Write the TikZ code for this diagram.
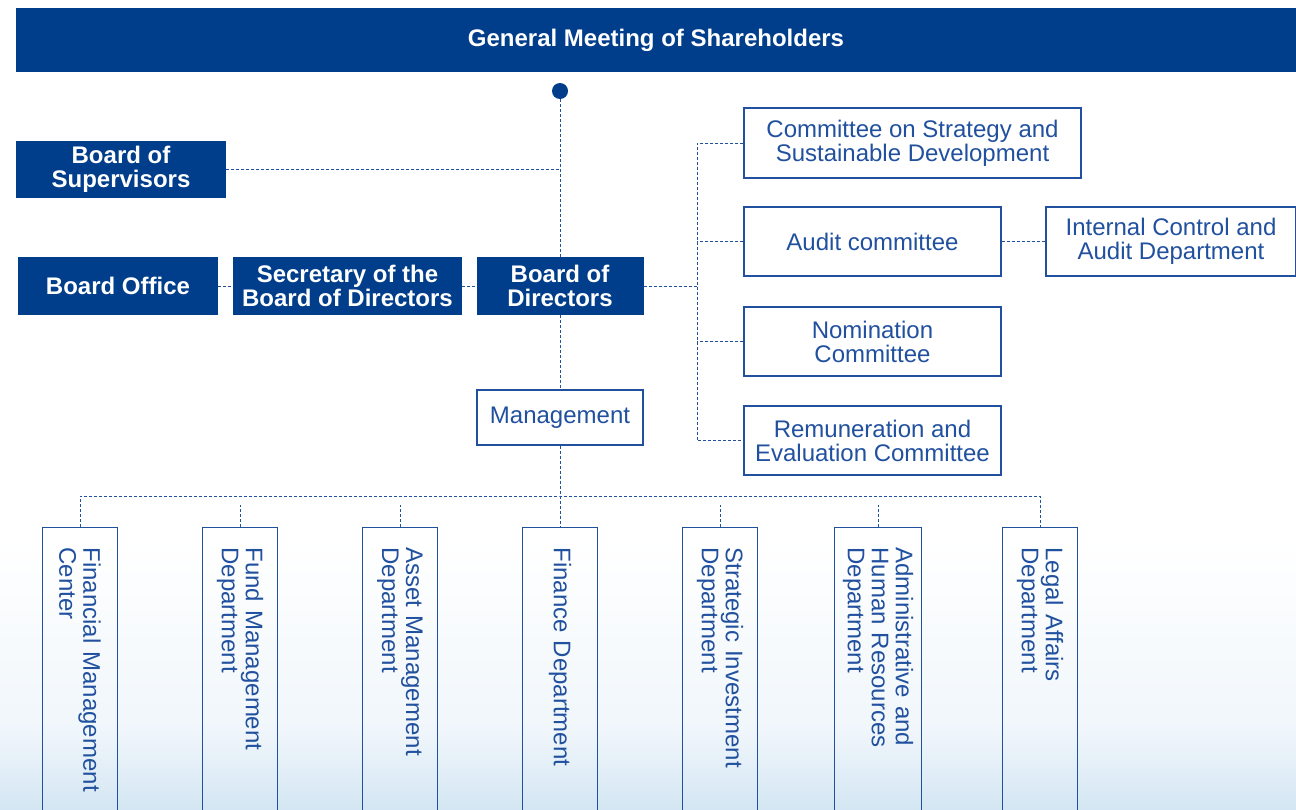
\documentclass[tikz,border=0pt]{standalone}
\usepackage{fontspec}
\setmainfont{Liberation Sans}
\definecolor{navy}{RGB}{0,61,138}
\definecolor{lineblue}{RGB}{32,80,158}
\definecolor{fadeblue}{RGB}{212,230,243}
\tikzset{
  darkbox/.style={fill=navy,text=white,font=\fontsize{24}{23.5}\selectfont\bfseries,align=center,inner sep=0pt},
  litebox/.style={draw=lineblue,line width=1.2pt,text=lineblue,font=\fontsize{24}{24}\selectfont,align=center,inner sep=0pt},
  deptbox/.style={litebox,rotate=-90,anchor=west,align=left,text width=250pt,inner xsep=20pt,minimum height=75pt},
  link/.style={lineblue,line width=1pt,dash pattern=on 3pt off 2pt}
}
\begin{document}
\begin{tikzpicture}[x=1pt,y=-1pt]
\clip (0,0) rectangle (1296,809);
\shade[top color=white,bottom color=fadeblue!35] (0,540) rectangle (1296,730);
\shade[top color=fadeblue!35,bottom color=fadeblue] (0,730) rectangle (1296,809);

\node[darkbox,minimum width=1280pt,minimum height=64pt] (gms) at (656,40) {General Meeting of Shareholders};
\node[circle,fill=navy,minimum size=16pt,inner sep=0pt] (dot) at (560,91) {};

\node[darkbox,minimum width=210pt,minimum height=57pt] (sup) at (121,169.5) {Board of\\Supervisors};
\node[darkbox,minimum width=200pt,minimum height=58pt] (office) at (118,286) {Board Office};
\node[darkbox,minimum width=229pt,minimum height=58pt] (secr) at (347.5,286) {Secretary of the\\Board of Directors};
\node[darkbox,minimum width=167pt,minimum height=58pt] (bod) at (560,286) {Board of\\Directors};

\node[litebox,minimum width=337pt,minimum height=70pt] (strat) at (912.5,143) {Committee on Strategy and\\Sustainable Development};
\node[litebox,minimum width=257pt,minimum height=69pt] (audit) at (872.5,241.5) {Audit committee};
\node[litebox,minimum width=250pt,minimum height=69pt] (icad) at (1171,241.5) {Internal Control and\\Audit Department};
\node[litebox,minimum width=257pt,minimum height=69pt] (nom) at (872.5,341.5) {Nomination\\Committee};
\node[litebox,minimum width=257pt,minimum height=69pt] (rem) at (872.5,440.5) {Remuneration and\\Evaluation Committee};
\node[litebox,minimum width=166pt,minimum height=55pt] (mgmt) at (560,417.5) {Management};

\node[deptbox] (fmc) at (80,527) {Financial Management\\Center};
\node[deptbox] (fmd) at (240,527) {Fund Management\\Department};
\node[deptbox] (amd) at (400,527) {Asset Management\\Department};
\node[deptbox] (fin) at (560,527) {Finance Department};
\node[deptbox] (sid) at (720,527) {Strategic Investment\\Department};
\node[deptbox,minimum height=87pt] (ahr) at (878,527) {Administrative and\\Human Resources\\Department};
\node[deptbox] (lad) at (1040,527) {Legal Affairs\\Department};

\coordinate (cbus) at (697,286);
\coordinate (mbus) at (560,496);

\draw[link] (dot) -- (bod.north);
\draw[link] (sup.east) -- (sup.east -| dot);
\draw[link] (office.east) -- (secr.west);
\draw[link] (secr.east) -- (bod.west);
\draw[link] (bod.east) -- (cbus);
\draw[link] (strat.west) -| (cbus |- rem.west) -- (rem.west);
\draw[link] (audit.west) -- (audit.west -| cbus);
\draw[link] (nom.west) -- (nom.west -| cbus);
\draw[link] (audit.east) -- (icad.west);
\draw[link] (bod.south) -- (mgmt.north);
\draw[link] (mgmt.south) -- (fin.west);
\draw[link] (fmc.west) |- (mbus) -| (lad.west);
\foreach \d in {fmd,amd,sid,ahr}
  \draw[link] (\d.west) -- ++(0,-22);
\end{tikzpicture}
\end{document}
